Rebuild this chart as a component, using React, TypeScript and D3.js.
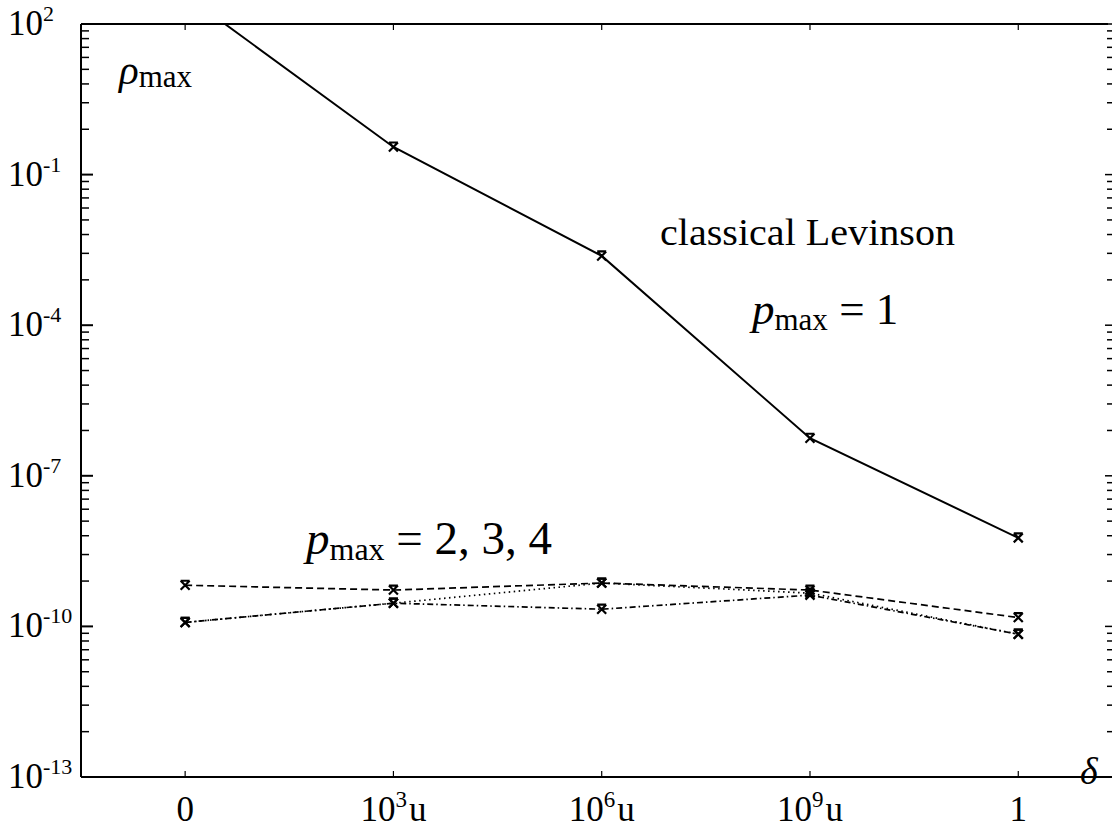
import React, { useRef, useEffect } from 'react';
import * as d3 from 'd3';

// x categories (delta) and their tick labels
const categories = [0, 1, 2, 3, 4];
const xTickLabels = [
  { base: '0', sup: '', unit: '' },
  { base: '10', sup: '3', unit: 'u' },
  { base: '10', sup: '6', unit: 'u' },
  { base: '10', sup: '9', unit: 'u' },
  { base: '1', sup: '', unit: '' },
];

// rho_max values
const levinson = [380, 0.355, 2.4e-3, 5.6e-7, 5.8e-9]; // p_max = 1
const pmax2 = [6.6e-10, 5.3e-10, 7.3e-10, 5.3e-10, 1.5e-10]; // dashed
const pmax3 = [1.2e-10, 2.9e-10, 7.3e-10, 4.6e-10, 7.0e-11]; // dotted
const pmax4 = [1.2e-10, 2.9e-10, 2.2e-10, 4.2e-10, 7.0e-11]; // dash-dot

const yTickExps = [2, -1, -4, -7, -10, -13];

const W = 1115;
const H = 835;
const FONT = "'Liberation Serif', 'DejaVu Serif', serif";

const App = () => {
  const ref = useRef<SVGSVGElement | null>(null);

  useEffect(() => {
    if (!ref.current) return;
    const svg = d3.select(ref.current);
    svg.selectAll('*').remove();

    const margin = { top: 24, right: 3, bottom: 58, left: 81 };
    const x0 = margin.left;
    const x1 = W - margin.right;
    const y0 = H - margin.bottom;
    const y1 = margin.top;

    const x = d3.scaleLinear().domain([-0.5, 4.45]).range([x0, x1]);
    const y = d3.scaleLog().domain([1e-13, 1e2]).range([y0, y1]);

    svg.append('defs')
      .append('clipPath')
      .attr('id', 'plot-clip')
      .append('rect')
      .attr('x', x0)
      .attr('y', y1)
      .attr('width', x1 - x0)
      .attr('height', y0 - y1);

    // frame: left, top, bottom (right edge only shows its ticks)
    const frame = svg.append('g').attr('stroke', '#000').attr('fill', 'none');
    frame.append('line').attr('x1', x0).attr('x2', x0).attr('y1', y1).attr('y2', y0).attr('stroke-width', 2);
    frame.append('line').attr('x1', x0).attr('x2', x1 - 4).attr('y1', y1).attr('y2', y1).attr('stroke-width', 2);
    frame.append('line').attr('x1', x0).attr('x2', x1).attr('y1', y0).attr('y2', y0).attr('stroke-width', 2);

    // y ticks: majors every 3 decades, minors at 3*log10(k) decades above each major
    const ticks = svg.append('g').attr('stroke', '#000');
    yTickExps.forEach((e) => {
      const v = Math.pow(10, e);
      ticks.append('line').attr('x1', x0).attr('x2', x0 + 12).attr('y1', y(v)).attr('y2', y(v)).attr('stroke-width', 2);
      ticks.append('line').attr('x1', x1 - 7).attr('x2', x1).attr('y1', y(v)).attr('y2', y(v)).attr('stroke-width', 1.5);
    });
    yTickExps.slice(1).forEach((e) => {
      for (let k = 2; k <= 9; k++) {
        const v = Math.pow(10, e + 3 * Math.log10(k));
        ticks.append('line').attr('x1', x0).attr('x2', x0 + 8).attr('y1', y(v)).attr('y2', y(v)).attr('stroke-width', 1.5);
        ticks.append('line').attr('x1', x1 - 5).attr('x2', x1).attr('y1', y(v)).attr('y2', y(v)).attr('stroke-width', 1.5);
      }
    });

    // x ticks (bottom and top)
    categories.forEach((c) => {
      ticks.append('line').attr('x1', x(c)).attr('x2', x(c)).attr('y1', y0).attr('y2', y0 - 6).attr('stroke-width', 1.2);
      ticks.append('line').attr('x1', x(c)).attr('x2', x(c)).attr('y1', y1).attr('y2', y1 + 6).attr('stroke-width', 1.2);
    });

    // y tick labels
    const yl = svg.append('g').attr('font-family', FONT).attr('fill', '#000');
    yTickExps.forEach((e) => {
      const t = yl.append('text')
        .attr('x', 8)
        .attr('y', y(Math.pow(10, e)) + 11)
        .attr('font-size', 35);
      t.append('tspan').text('10');
      t.append('tspan').attr('font-size', 22).attr('dy', -14).text(e < 0 ? `-${-e}` : `${e}`);
    });

    // x tick labels
    const xl = svg.append('g').attr('font-family', FONT).attr('fill', '#000');
    categories.forEach((c, i) => {
      const lab = xTickLabels[i];
      const t = xl.append('text')
        .attr('x', x(c))
        .attr('y', 821)
        .attr('text-anchor', 'middle')
        .attr('font-size', 35);
      t.append('tspan').text(lab.base);
      if (lab.sup) {
        t.append('tspan').attr('font-size', 23).attr('dy', -14).text(lab.sup);
        t.append('tspan').attr('dx', 2).attr('dy', 14).text(lab.unit);
      }
    });

    // series
    const plot = svg.append('g').attr('clip-path', 'url(#plot-clip)');
    const line = d3.line<number>()
      .x((_, i) => x(categories[i]))
      .y((d) => y(d));

    const series = [
      { values: levinson, dash: null, width: 2 },
      { values: pmax2, dash: '7,4', width: 1.7 },
      { values: pmax3, dash: '1.5,3.5', width: 1.7 },
      { values: pmax4, dash: '6,3,1.5,3', width: 1.7 },
    ];

    series.forEach((s) => {
      plot.append('path')
        .attr('d', line(s.values))
        .attr('fill', 'none')
        .attr('stroke', '#000')
        .attr('stroke-width', s.width)
        .attr('stroke-dasharray', s.dash);

      // x markers
      plot.append('g')
        .selectAll('path')
        .data(s.values)
        .join('path')
        .attr('d', (d, i) => {
          const cx = x(categories[i]);
          const cy = y(d);
          const r = 4.5;
          return `M${cx - r},${cy - r}L${cx + r},${cy + r}M${cx + r},${cy - r}L${cx - r},${cy + r}M${cx - r},${cy - r}L${cx + r},${cy - r}`;
        })
        .attr('fill', 'none')
        .attr('stroke', '#000')
        .attr('stroke-width', 2.2);
    });

    // annotations
    const ann = svg.append('g').attr('font-family', FONT).attr('fill', '#000');

    const rho = ann.append('text').attr('x', 119).attr('y', 84).attr('font-size', 41);
    rho.append('tspan').attr('font-style', 'italic').text('ρ');
    rho.append('tspan').attr('font-size', 31).attr('dy', 3).text('max');

    ann.append('text')
      .attr('x', 660)
      .attr('y', 245)
      .attr('font-size', 38)
      .attr('textLength', 295)
      .attr('lengthAdjust', 'spacingAndGlyphs')
      .text('classical Levinson');

    const p1 = ann.append('text').attr('x', 752).attr('y', 324).attr('font-size', 45);
    p1.append('tspan').attr('font-style', 'italic').text('p');
    p1.append('tspan').attr('font-size', 31).attr('dy', 6).text('max');
    p1.append('tspan').attr('dy', -6).text(' = 1');

    const p2 = ann.append('text').attr('x', 306).attr('y', 554).attr('font-size', 47);
    p2.append('tspan').attr('font-style', 'italic').text('p');
    p2.append('tspan').attr('font-size', 32).attr('dy', 6).text('max');
    p2.append('tspan').attr('dy', -6).text(' = 2, 3, 4');

    ann.append('text')
      .attr('x', 1080)
      .attr('y', 784)
      .attr('font-size', 38)
      .attr('font-style', 'italic')
      .text('δ');
  }, []);

  return (
    <svg
      ref={ref}
      width={W}
      height={H}
      style={{ position: 'absolute', left: 0, top: 0, background: '#fff' }}
    />
  );
};

export default App;
